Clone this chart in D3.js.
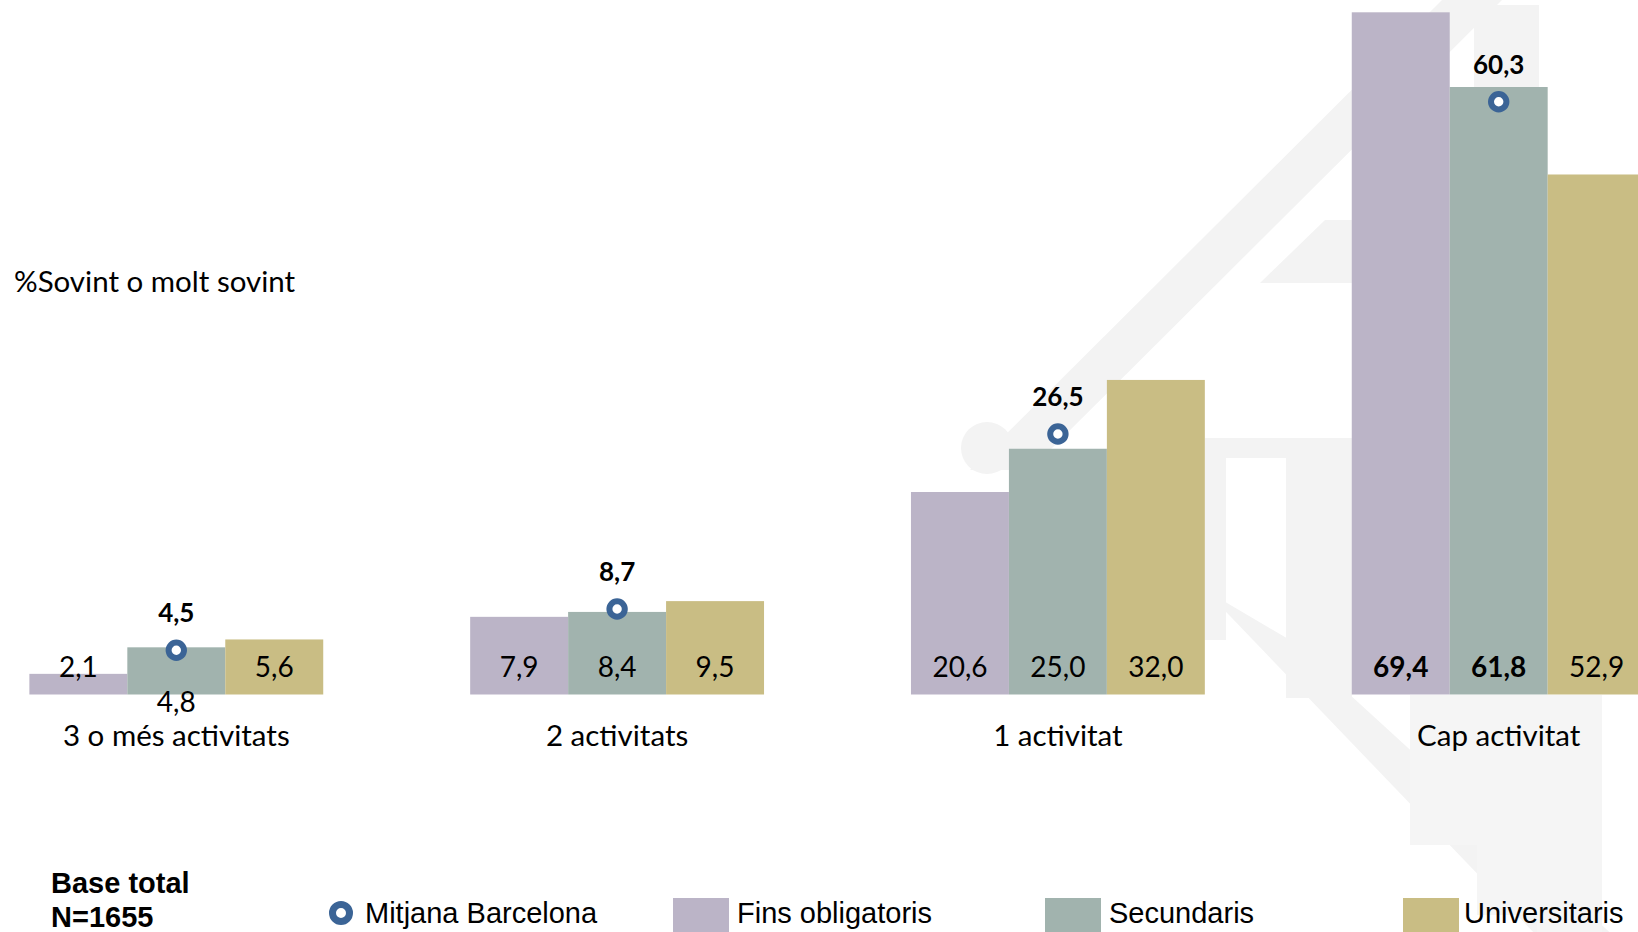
<!DOCTYPE html>
<html>
<head>
<meta charset="utf-8">
<script src="https://cdn.jsdelivr.net/npm/d3@7"></script>
<style>
  html, body { margin: 0; padding: 0; background: #ffffff; }
  svg { display: block; }
</style>
</head>
<body>
<svg id="chart" width="1638" height="932"></svg>
<script>
// ---------- data ----------
const categories = ["3 o més activitats", "2 activitats", "1 activitat", "Cap activitat"];
const seriesNames = ["Fins obligatoris", "Secundaris", "Universitaris"];
const finsObligatoris = [2.1, 7.9, 20.6, 69.4];
const secundaris = [4.8, 8.4, 25.0, 61.8];
const universitaris = [5.6, 9.5, 32.0, 52.9];
const mitjanaBarcelona = [4.5, 8.7, 26.5, 60.3];
const boldFins = [false, false, false, true];
const boldSecundaris = [false, false, false, true];
const boldUniversitaris = [false, false, false, false];
const yTitle = "%Sovint o molt sovint";
const meanLabel = "Mitjana Barcelona";
const baseLines = ["Base total", "N=1655"];

// ---------- styles ----------
const colors = ["#bbb4c7", "#a1b3ae", "#c9bd84"];
const meanColor = "#3b6496";
const wm = "#f3f3f3";
const calibri = "Lato, 'Open Sans', sans-serif";
const arial = "'Liberation Sans', Arial, sans-serif";

const seriesValues = [finsObligatoris, secundaris, universitaris];
const seriesBold = [boldFins, boldSecundaris, boldUniversitaris];
const fmt = v => d3.format(".1f")(v).replace(".", ",");

const svg = d3.select("#chart");
svg.append("rect").attr("width", 1638).attr("height", 932).attr("fill", "#fff");

// ---------- watermark (faint background logo) ----------
const w = svg.append("g").attr("fill", wm);
w.append("polygon").attr("points", "1442,0 1502,0 1030,470 970,470");
w.append("circle").attr("cx", 987).attr("cy", 448).attr("r", 26);
w.append("rect").attr("x", 1474).attr("y", 5).attr("width", 65).attr("height", 90);
w.append("polygon").attr("points", "1325,220 1400,220 1400,283 1260,283");
w.append("rect").attr("x", 1205).attr("y", 438).attr("width", 150).attr("height", 20);
w.append("rect").attr("x", 1205).attr("y", 458).attr("width", 21).attr("height", 182);
w.append("rect").attr("x", 1286).attr("y", 458).attr("width", 66).attr("height", 240);
w.append("polygon").attr("points", "1205,590 1290,640 1640,960 1560,960");
w.append("rect").attr("x", 1410).attr("y", 695).attr("width", 67).attr("height", 150).attr("fill", "#f5f5f5");
w.append("rect").attr("x", 1477).attr("y", 695).attr("width", 60).attr("height", 220).attr("fill", "#f5f5f5");
w.append("rect").attr("x", 1537).attr("y", 695).attr("width", 65).attr("height", 237).attr("fill", "#f5f5f5");

// ---------- scales ----------
const x0 = d3.scaleBand().domain(categories).range([-44.1, 1719.1]).paddingInner(1/3).paddingOuter(1/6);
const x1 = d3.scaleBand().domain(seriesNames).range([0, x0.bandwidth()]);
const y = d3.scaleLinear().domain([0, 70]).range([694.5, 6.4]);

// ---------- bars ----------
const groups = svg.append("g").selectAll("g").data(categories).join("g")
  .attr("transform", d => `translate(${x0(d)},0)`);

groups.each(function(cat, ci) {
  const g = d3.select(this);
  seriesNames.forEach((s, si) => {
    const v = seriesValues[si][ci];
    g.append("rect")
      .attr("x", x1(s)).attr("y", y(v))
      .attr("width", x1.bandwidth()).attr("height", y(0) - y(v))
      .attr("fill", colors[si]);
  });
  seriesNames.forEach((s, si) => {
    const v = seriesValues[si][ci];
    const below = (ci === 0 && si === 1);
    g.append("text")
      .attr("x", x1(s) + x1.bandwidth() / 2)
      .attr("y", below ? y(0) + 17 : y(0) - 17.5)
      .attr("text-anchor", "middle")
      .attr("font-family", calibri)
      .attr("font-size", 28)
      .attr("font-weight", seriesBold[si][ci] ? "bold" : "normal")
      .attr("fill", "#000")
      .text(fmt(v));
  });
  // mean marker
  const mx = x1(seriesNames[1]) + x1.bandwidth() / 2;
  const m = mitjanaBarcelona[ci];
  g.append("circle")
    .attr("cx", mx).attr("cy", y(m)).attr("r", 7.7)
    .attr("fill", "#fff").attr("stroke", meanColor).attr("stroke-width", 6);
  g.append("text")
    .attr("x", mx).attr("y", y(m) - 28)
    .attr("text-anchor", "middle")
    .attr("font-family", calibri).attr("font-size", 26).attr("font-weight", "bold")
    .attr("fill", "#000")
    .text(fmt(m));
});

// ---------- category axis ----------
const xAxis = svg.append("g")
  .attr("transform", `translate(0,${y(0)})`)
  .call(d3.axisBottom(x0).tickSize(0));
xAxis.select(".domain").remove();
xAxis.selectAll("text")
  .attr("y", 51.5).attr("dy", 0)
  .attr("font-family", calibri).attr("font-size", 29.5).attr("fill", "#000");

// ---------- y title ----------
svg.append("text")
  .attr("x", 14).attr("y", 292)
  .attr("font-family", calibri).attr("font-size", 29.5).attr("fill", "#000")
  .text(yTitle);

// ---------- legend ----------
svg.append("text")
  .attr("x", 51).attr("y", 893)
  .attr("font-family", arial).attr("font-size", 29).attr("font-weight", "bold")
  .text(baseLines[0]);
svg.append("text")
  .attr("x", 51).attr("y", 927)
  .attr("font-family", arial).attr("font-size", 29).attr("font-weight", "bold")
  .text(baseLines[1]);

svg.append("circle")
  .attr("cx", 341).attr("cy", 913).attr("r", 8.5)
  .attr("fill", "#fff").attr("stroke", meanColor).attr("stroke-width", 7);
svg.append("text")
  .attr("x", 365).attr("y", 923)
  .attr("font-family", arial).attr("font-size", 29)
  .text(meanLabel);

const legendX = [673, 1045, 1403];
const legendTextGap = [64, 64, 61];
seriesNames.forEach((s, si) => {
  svg.append("rect")
    .attr("x", legendX[si]).attr("y", 898)
    .attr("width", 56).attr("height", 36)
    .attr("fill", colors[si]);
  svg.append("text")
    .attr("x", legendX[si] + legendTextGap[si]).attr("y", 923)
    .attr("font-family", arial).attr("font-size", 29)
    .text(s);
});
</script>
</body>
</html>
